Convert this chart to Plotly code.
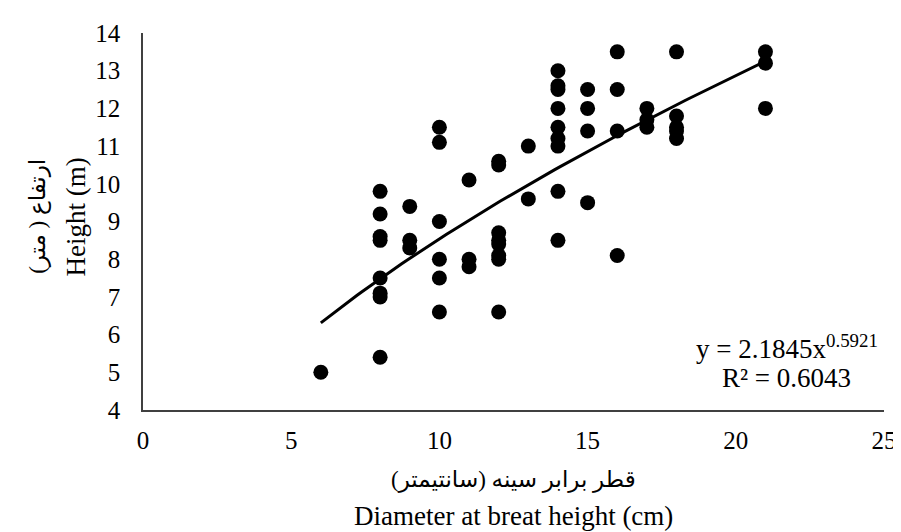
import numpy as np
import plotly.graph_objects as go

# Data (DBH in cm, height in m)
dbh = [6,
       8, 8, 8, 8, 8, 8, 8, 8,
       9, 9, 9,
       10, 10, 10, 10, 10, 10,
       11, 11, 11,
       12, 12, 12, 12, 12, 12, 12, 12,
       13, 13,
       14, 14, 14, 14, 14, 14, 14, 14, 14,
       15, 15, 15, 15,
       16, 16, 16, 16,
       17, 17, 17,
       18, 18, 18, 18, 18,
       21, 21, 21]
height = [5.0,
          9.8, 9.2, 8.6, 8.5, 7.5, 7.1, 7.0, 5.4,
          9.4, 8.5, 8.3,
          11.5, 11.1, 9.0, 8.0, 7.5, 6.6,
          10.1, 8.0, 7.8,
          10.6, 10.5, 8.7, 8.5, 8.4, 8.1, 8.0, 6.6,
          11.0, 9.6,
          13.0, 12.6, 12.5, 12.0, 11.5, 11.2, 11.0, 9.8, 8.5,
          12.5, 12.0, 11.4, 9.5,
          13.5, 12.5, 11.4, 8.1,
          12.0, 11.7, 11.5,
          13.5, 11.8, 11.5, 11.4, 11.2,
          13.5, 13.2, 12.0]

# Power trendline given in the chart: y = a * x^b
coef_a = 2.1845
coef_b = 0.5921
r2 = 0.6043

x_ticks = [0, 5, 10, 15, 20, 25]
y_ticks = [4, 5, 6, 7, 8, 9, 10, 11, 12, 13, 14]

fx = np.linspace(min(dbh), max(dbh), 100)
fy = coef_a * fx ** coef_b

FONT = "Times New Roman, Liberation Serif, DejaVu Sans, serif"
TXT = 27
AR = 23

fig = go.Figure()
fig.add_trace(go.Scatter(x=dbh, y=height, mode="markers",
                         marker=dict(color="black", size=15),
                         showlegend=False, hoverinfo="x+y"))
fig.add_trace(go.Scatter(x=fx, y=fy, mode="lines",
                         line=dict(color="black", width=3),
                         showlegend=False, hoverinfo="skip"))

fig.update_layout(
    width=901, height=532,
    margin=dict(l=135, r=19, t=18, b=130),
    paper_bgcolor="white", plot_bgcolor="white",
    font=dict(family=FONT, size=25, color="black"),
)
fig.update_xaxes(range=[0, 25], tickvals=x_ticks, showgrid=False, zeroline=False,
                 showline=True, linecolor="#404040", linewidth=1.5,
                 ticks="", ticklabelstandoff=7, fixedrange=True)
fig.update_yaxes(range=[4, 14], tickvals=y_ticks, showgrid=False, zeroline=False,
                 showline=True, linecolor="#404040", linewidth=1.5,
                 ticks="", ticklabelstandoff=16, fixedrange=True)

fig.add_annotation(xref="paper", yref="paper", x=0.5, y=-0.185,
                   text="قطر برابر سینه (سانتیمتر)", showarrow=False,
                   font=dict(size=AR), xanchor="center", yanchor="middle")
fig.add_annotation(xref="paper", yref="paper", x=0.5, y=-0.281,
                   text="Diameter at breat height (cm)", showarrow=False,
                   font=dict(size=TXT), xanchor="center", yanchor="middle")
fig.add_annotation(xref="paper", yref="paper", x=-0.1427, y=0.513,
                   text="ارتفاع ( متر)", showarrow=False, textangle=-90,
                   font=dict(size=AR), xanchor="center", yanchor="middle")
fig.add_annotation(xref="paper", yref="paper", x=-0.0907, y=0.513,
                   text="Height (m)", showarrow=False, textangle=-90,
                   font=dict(size=TXT), xanchor="center", yanchor="middle")
fig.add_annotation(xref="paper", yref="paper", x=0.869, y=0.166,
                   text=f"y = {coef_a}x<sup>{coef_b}</sup>", showarrow=False,
                   font=dict(size=TXT), xanchor="center", yanchor="middle")
fig.add_annotation(xref="paper", yref="paper", x=0.869, y=0.086,
                   text=f"R² = {r2}", showarrow=False,
                   font=dict(size=TXT), xanchor="center", yanchor="middle")

fig.write_html("out.html")
